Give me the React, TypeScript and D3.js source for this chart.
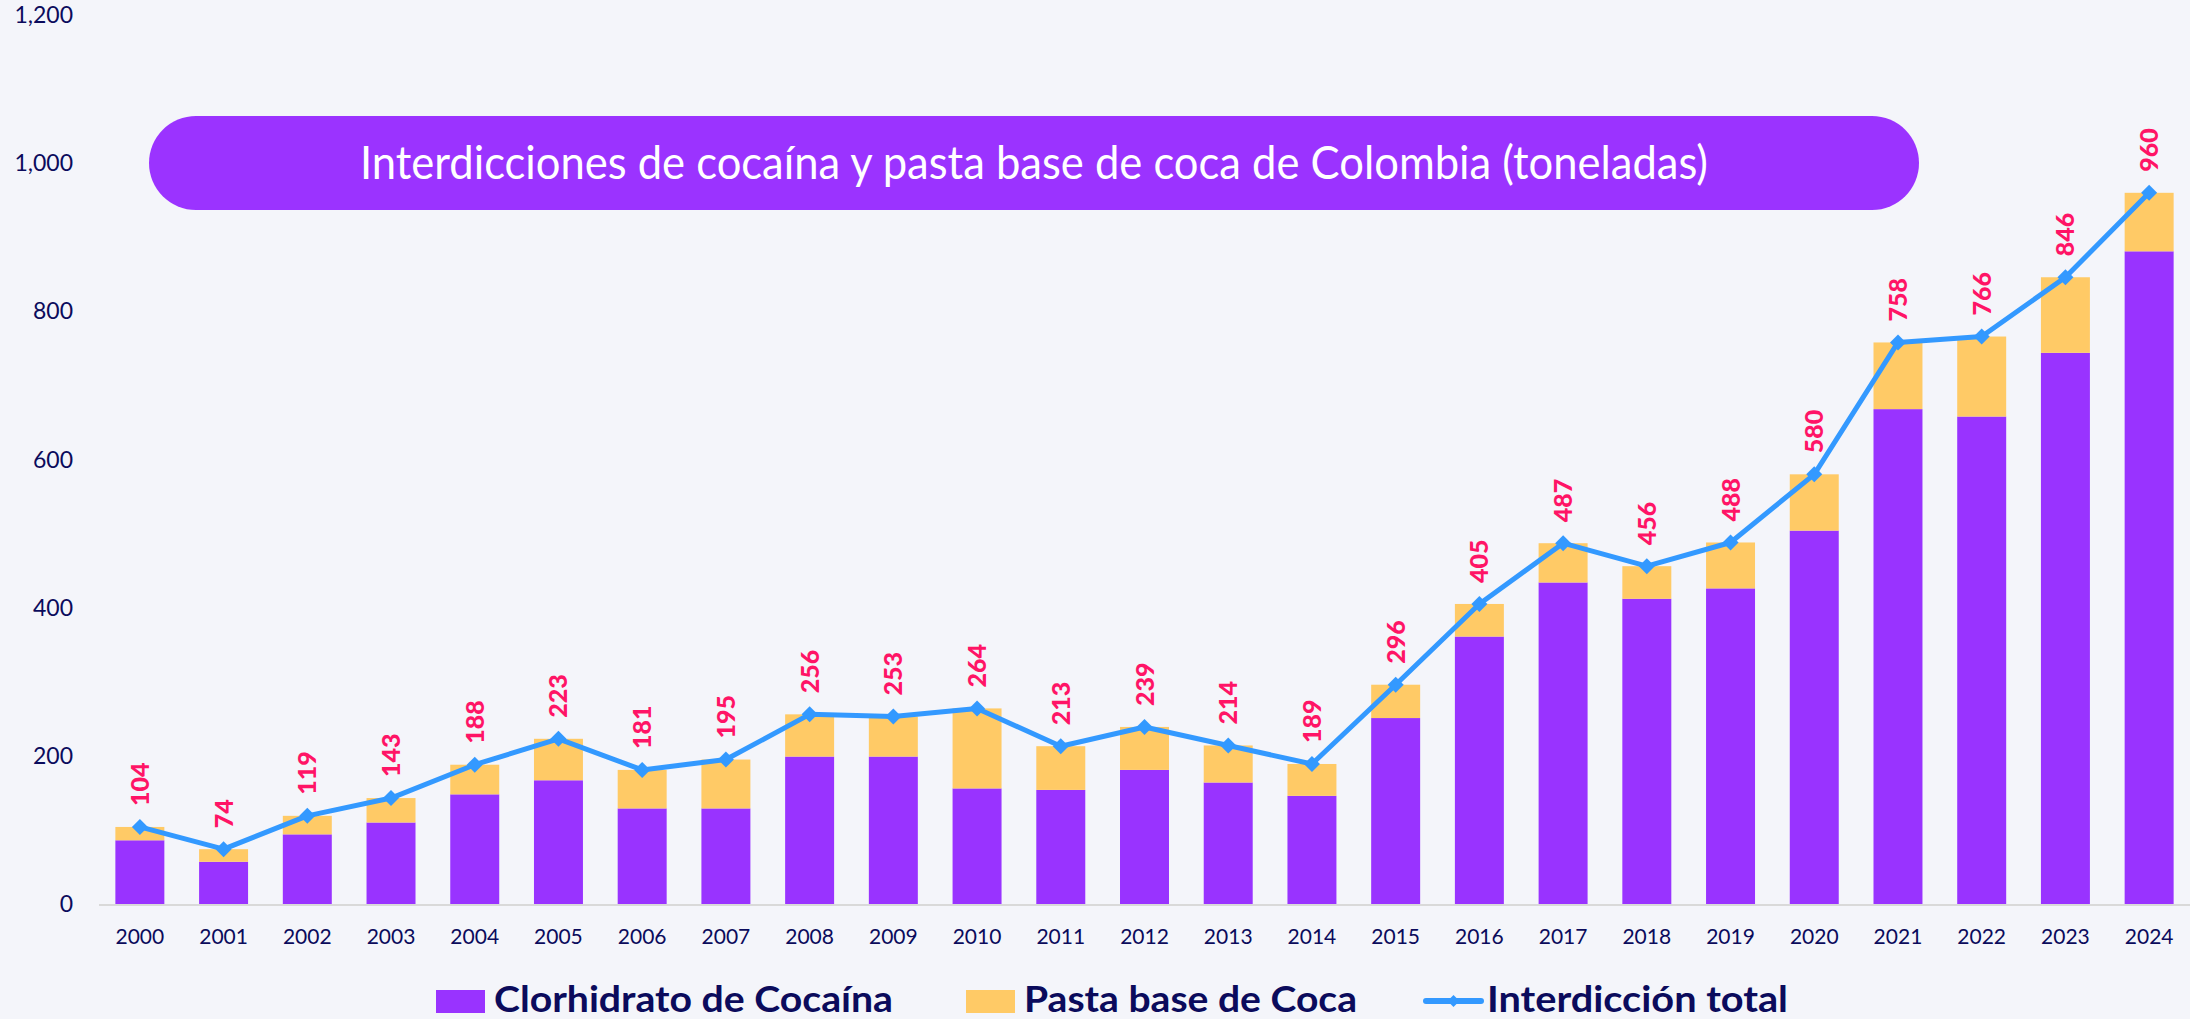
import React from 'react';
import * as d3 from 'd3';

const years = [
  '2000', '2001', '2002', '2003', '2004', '2005', '2006', '2007', '2008', '2009', '2010', '2011',
  '2012', '2013', '2014', '2015', '2016', '2017', '2018', '2019', '2020', '2021', '2022', '2023', '2024',
];
// Clorhidrato de Cocaína (toneladas)
const cocaina = [86, 57, 94, 110, 148, 167, 129, 129, 199, 199, 156, 154, 181, 164, 146, 251, 361, 434, 412, 426, 504, 668, 658, 744, 881];
// Interdicción total (toneladas)
const total = [104, 74, 119, 143, 188, 223, 181, 195, 256, 253, 264, 213, 239, 214, 189, 296, 405, 487, 456, 488, 580, 758, 766, 846, 960];
// Pasta base de Coca = total - clorhidrato
const pastaBase = total.map((t, i) => t - cocaina[i]);

const yTicks = [0, 200, 400, 600, 800, 1000, 1200];
const title = 'Interdicciones de cocaína y pasta base de coca de Colombia (toneladas)';
const legendItems = [
  { label: 'Clorhidrato de Cocaína', kind: 'bar', color: '#9933FF', x: 436, w: 399 },
  { label: 'Pasta base de Coca', kind: 'bar', color: '#FFCA66', x: 966, w: 333 },
  { label: 'Interdicción total', kind: 'line', color: '#3399FF', x: 1426, w: 301 },
];

const W = 2190;
const H = 1019;
const FONT = 'Lato, "Open Sans", sans-serif';
const NAVY = '#0B0B5C';

export default function App() {
  const x = d3.scaleBand<string>().domain(years).range([98, 2191]).paddingInner(0.415).paddingOuter(0.2075);
  const y = d3.scaleLinear().domain([0, 1200]).range([904, 15]);
  const fmt = d3.format(',');

  const line = d3
    .line<number>()
    .x((_, i) => x(years[i])! + x.bandwidth() / 2)
    .y((d) => y(d));

  const diamond = (cx: number, cy: number, r: number) =>
    `M${cx},${cy - r}L${cx + r},${cy}L${cx},${cy + r}L${cx - r},${cy}Z`;

  return (
    <svg width={W} height={H} style={{ position: 'absolute', left: 0, top: 0 }} fontFamily={FONT}>
      <rect width={W} height={H} fill="#F4F5FA" />

      {/* y axis labels */}
      {yTicks.map((t) => (
        <text key={t} x={73} y={y(t)} dy="0.35em" textAnchor="end" fontSize={23} fill={NAVY}>
          {fmt(t)}
        </text>
      ))}

      {/* stacked bars */}
      {years.map((yr, i) => (
        <g key={yr}>
          <rect x={x(yr)} y={y(cocaina[i])} width={x.bandwidth()} height={y(0) - y(cocaina[i])} fill="#9933FF" />
          <rect
            x={x(yr)}
            y={y(cocaina[i] + pastaBase[i])}
            width={x.bandwidth()}
            height={y(cocaina[i]) - y(cocaina[i] + pastaBase[i])}
            fill="#FFCA66"
          />
        </g>
      ))}

      {/* x axis */}
      <line x1={99} x2={2190} y1={y(0) + 1} y2={y(0) + 1} stroke="#D9D9D9" strokeWidth={2} />
      {years.map((yr) => (
        <text key={yr} x={x(yr)! + x.bandwidth() / 2} y={937} dy="0.35em" textAnchor="middle" fontSize={21} fill={NAVY}>
          {yr}
        </text>
      ))}

      {/* total line */}
      <path d={line(total)!} fill="none" stroke="#3399FF" strokeWidth={5} strokeLinejoin="round" />
      {total.map((t, i) => (
        <path key={i} d={diamond(x(years[i])! + x.bandwidth() / 2, y(t), 8)} fill="#3399FF" />
      ))}

      {/* data labels */}
      {total.map((t, i) => {
        const cx = x(years[i])! + x.bandwidth() / 2;
        const cy = y(t) - 21;
        return (
          <text
            key={i}
            transform={`translate(${cx},${cy}) rotate(-90)`}
            dy="0.36em"
            fontSize={25}
            fontWeight={900}
            fill="#FF1466"
          >
            {t}
          </text>
        );
      })}

      {/* title pill */}
      <rect x={149} y={116} width={1770} height={94} rx={47} fill="#9B33FF" />
      <text
        x={1034}
        y={163}
        dy="0.35em"
        textAnchor="middle"
        fontSize={46}
        fontWeight={400}
        fill="#FFFFFF"
        textLength={1348}
        lengthAdjust="spacingAndGlyphs"
      >
        {title}
      </text>

      {/* legend */}
      {legendItems.map((it) => (
        <g key={it.label}>
          {it.kind === 'bar' ? (
            <rect x={it.x} y={990} width={49} height={23} fill={it.color} />
          ) : (
            <g>
              <line x1={it.x} x2={it.x + 55} y1={1001} y2={1001} stroke={it.color} strokeWidth={6} strokeLinecap="round" />
              <path d={diamond(it.x + 27.5, 1001, 6)} fill={it.color} />
            </g>
          )}
          <text
            x={it.kind === 'bar' ? it.x + 58 : it.x + 61}
            y={1012}
            fontSize={37}
            fontWeight={700}
            fill={NAVY}
            textLength={it.w}
            lengthAdjust="spacingAndGlyphs"
          >
            {it.label}
          </text>
        </g>
      ))}
    </svg>
  );
}
